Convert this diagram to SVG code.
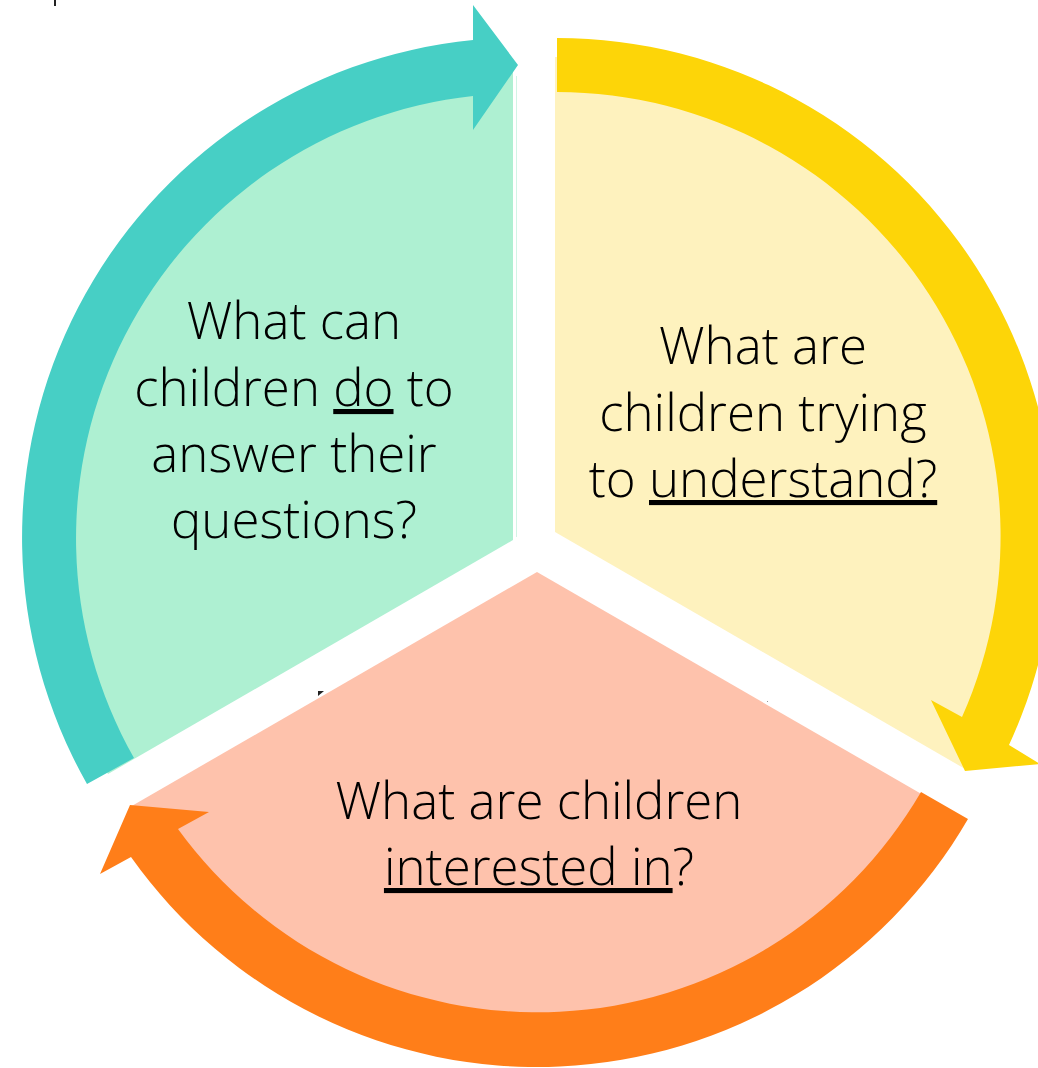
<svg xmlns="http://www.w3.org/2000/svg" width="1038" height="1068" viewBox="0 0 1038 1068">
<style>
.lbl{font-family:"Open Sans","Noto Sans","Liberation Sans",sans-serif;font-size:51px;font-weight:350;fill:#000;text-anchor:middle}
.u{text-decoration:underline}
</style>
<rect width="1038" height="1068" fill="#fff"/>
<g id="sectors">
<g id="node-do"><path d="M513 540 L513 72 A468 468 0 0 0 108 774 Z" fill="#AEF0D2"/>
<line x1="516.5" y1="76" x2="516.5" y2="537" stroke="#d2f5e5" stroke-width="1"/></g>
<g id="node-understand"><path d="M555 532 L555 57 A475 475 0 0 1 966 769.5 Z" fill="#FEF2BE"/></g>
<g id="node-interested"><path d="M537 572 L944 807 A470 470 0 0 1 130 807 Z" fill="#FEC2AC"/></g>
</g>
<g id="connectors">
<path id="arrow-teal" d="M87 784 A500 500 0 0 1 473 40 L473 5 L518 65 L473 130 L473 96 A445 445 0 0 0 134 758 Z" fill="#47CFC5"/>
<path id="arrow-yellow" d="M557 38 A498 498 0 0 1 1009 745 L1040 764 L965 771 L931 700 L962 717 A444 444 0 0 0 557 92 Z" fill="#FDD508"/>
<path id="arrow-orange" d="M968 819 A498 498 0 0 1 131 857 L100 874 L130 805 L209 812 L178 829 A444 444 0 0 0 921 792 Z" fill="#FF7E19"/>
</g>
<g id="labels">
<text class="lbl" x="294" y="339">What can</text>
<text class="lbl" x="294" y="406">children <tspan class="u">do</tspan> to</text>
<text class="lbl" x="294" y="472">answer their</text>
<text class="lbl" x="294" y="538">questions?</text>
<text class="lbl" x="763" y="364">What are</text>
<text class="lbl" x="763" y="431">children trying</text>
<text class="lbl" x="763" y="497">to <tspan class="u">understand?</tspan></text>
<text class="lbl" x="539" y="819">What are children</text>
<text class="lbl" x="539" y="885"><tspan class="u">interested in</tspan>?</text>
</g>
<g id="marks">
<rect x="54" y="0" width="2" height="6" fill="#222"/>
<path d="M318 691 L324 691 L318 696 Z" fill="#222"/>
<rect x="767" y="701" width="1" height="1" fill="#999"/>
</g>
</svg>
